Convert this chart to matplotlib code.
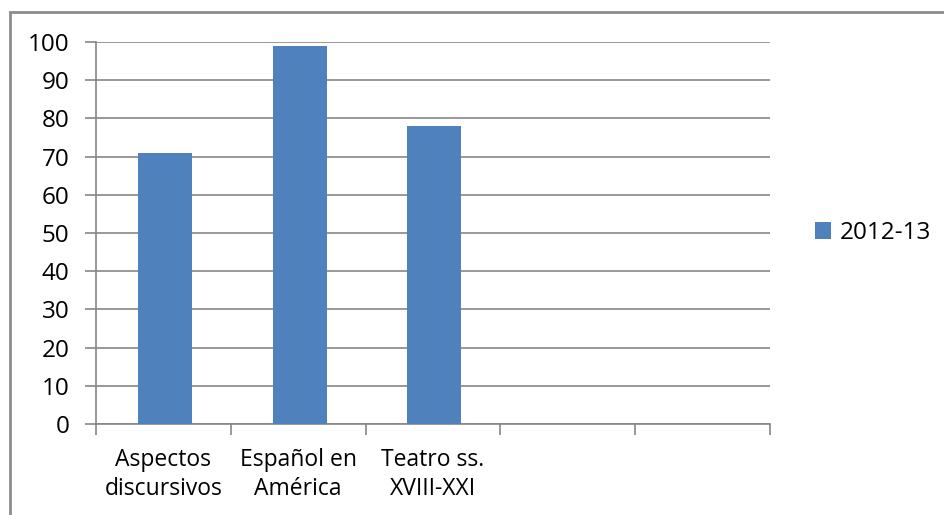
import numpy as np
import matplotlib
matplotlib.use("Agg")
import matplotlib.pyplot as plt
from matplotlib.patches import Rectangle

categories = ["Aspectos\ndiscursivos", "Español en\nAmérica", "Teatro ss.\nXVIII-XXI", "", ""]
values = [71, 99, 78]
series = "2012-13"
yticks = list(range(0, 101, 10))

plt.rcParams['font.family'] = ['Open Sans', 'DejaVu Sans']

W, H = 944, 515
fig = plt.figure(figsize=(W / 100, H / 100), dpi=100)
ax = fig.add_axes([96 / W, 1 - 424 / H, (770 - 96) / W, (424 - 42) / H])

x = np.arange(len(values))
ax.bar(x + 0.01, values, width=0.4, color="#4F81BD", zorder=3, label=series)

ax.set_xlim(-0.5, len(categories) - 0.5)
ax.set_ylim(0, 100)
ax.set_yticks(yticks)
ax.yaxis.grid(True, color="#868686", linewidth=1.2, zorder=0)

# category labels centred in slots, ticks on slot boundaries
ax.set_xticks(np.arange(len(categories) + 1) - 0.5)
ax.set_xticklabels([])
ax.set_xticks(np.arange(len(categories)), minor=True)
ax.set_xticklabels(categories, minor=True, fontsize=16.5, linespacing=1.3)
ax.tick_params(axis="x", which="minor", length=0, pad=17)
ax.tick_params(axis="x", which="major", length=8, color="#868686", width=1.2)
ax.tick_params(axis="y", length=8, color="#868686", width=1.2, labelsize=17.5, pad=11)

for side in ["top", "right"]:
    ax.spines[side].set_visible(False)
for side in ["left", "bottom"]:
    ax.spines[side].set_color("#868686")
    ax.spines[side].set_linewidth(1.2)

leg = ax.legend(loc="center left", bbox_to_anchor=(1.035, 0.5), frameon=False,
                fontsize=17.5, handlelength=0.65, handleheight=0.65, handletextpad=0.35)

# outer chart border (cut off at right and bottom)
fig.patches.append(Rectangle((10 / W, -0.1), 1.2, 1 - 12 / H + 0.1,
                             transform=fig.transFigure, fill=False,
                             edgecolor="#8c8c8c", linewidth=2))

fig.savefig("out.png", dpi=100)
